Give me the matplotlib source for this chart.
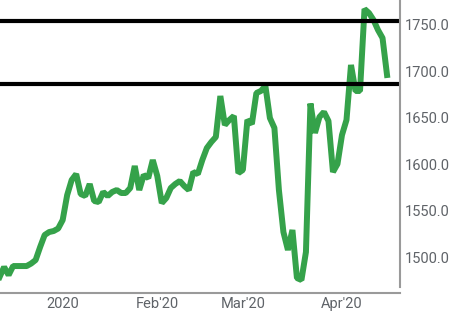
import numpy as np
import matplotlib
matplotlib.use('Agg')
import matplotlib.pyplot as plt

plt.rcParams['font.family'] = ['Roboto', 'DejaVu Sans']

# daily closes, one per trading day (mid Dec 2019 - mid Apr 2020)
prices = [
    1478.8, 1489.6, 1480.9, 1490.6, 1490.6, 1490.6, 1490.6, 1493.3, 1497.1, 1511.1,
    1524.0, 1527.2, 1528.3, 1531.0, 1540.1, 1567.0, 1583.2, 1589.6, 1568.1, 1566.0,
    1578.9, 1560.6, 1559.5, 1570.3, 1566.0, 1570.3, 1572.4, 1569.2, 1569.2, 1574.6,
    1598.3, 1572.4, 1588.6, 1585.3, 1604.7, 1587.5, 1558.4, 1563.8, 1574.6, 1578.9,
    1582.1, 1576.7, 1572.4, 1591.8, 1589.6, 1604.7, 1617.6, 1624.1, 1629.5, 1673.6,
    1642.4, 1647.8, 1652.1, 1590.7, 1594.0, 1647.8, 1643.5, 1676.8, 1679.0, 1684.4,
    1649.9, 1639.2, 1572.4, 1527.2, 1507.9, 1529.4, 1477.7, 1475.6, 1505.7, 1665.5,
    1633.8, 1651.0, 1656.4, 1646.7, 1591.8, 1600.4, 1631.6, 1647.8, 1707.0, 1679.0,
    1679.0, 1767.2, 1762.9, 1755.4, 1744.6, 1736.0, 1696.2,
]
levels = [1754.6, 1686.8]

tick_pos = [14, 35, 54, 76]
tick_labels = ['2020', "Feb'20", "Mar'20", "Apr'20"]
y_ticks = [1500, 1550, 1600, 1650, 1700, 1750]

text_color = '#5f6368'
axis_color = '#9a9a9a'

fig = plt.figure(figsize=(4.67, 3.12), dpi=100)
ax = fig.add_axes([0, 0.0609, 400 / 467, 0.9391])

x = np.arange(len(prices))
ax.plot(x, prices, color='#35a24a', linewidth=4.3, solid_joinstyle='bevel')
for lv in levels:
    ax.axhline(lv, color='black', linewidth=3)

ax.set_xlim(0.089, 0.089 + 400 / 4.505)
ax.set_ylim(1461.6, 1776.9)

ax.yaxis.tick_right()
ax.set_yticks(y_ticks)
ax.set_yticklabels(['%.1f' % v for v in y_ticks])
ax.set_xticks(tick_pos)
ax.set_xticklabels(tick_labels)
ax.tick_params(axis='both', length=0, labelsize=10.5, colors=text_color)
ax.tick_params(axis='y', pad=3.6)
ax.tick_params(axis='x', pad=2.7)

for s in ['top', 'left']:
    ax.spines[s].set_visible(False)
ax.spines['right'].set_color(axis_color)
ax.spines['bottom'].set_color(axis_color)
ax.spines['right'].set_linewidth(1.5)
ax.spines['bottom'].set_linewidth(1.5)
ax.spines['right'].set_bounds(1468.0, 1776.9)

fig.savefig('out.png', dpi=100)
